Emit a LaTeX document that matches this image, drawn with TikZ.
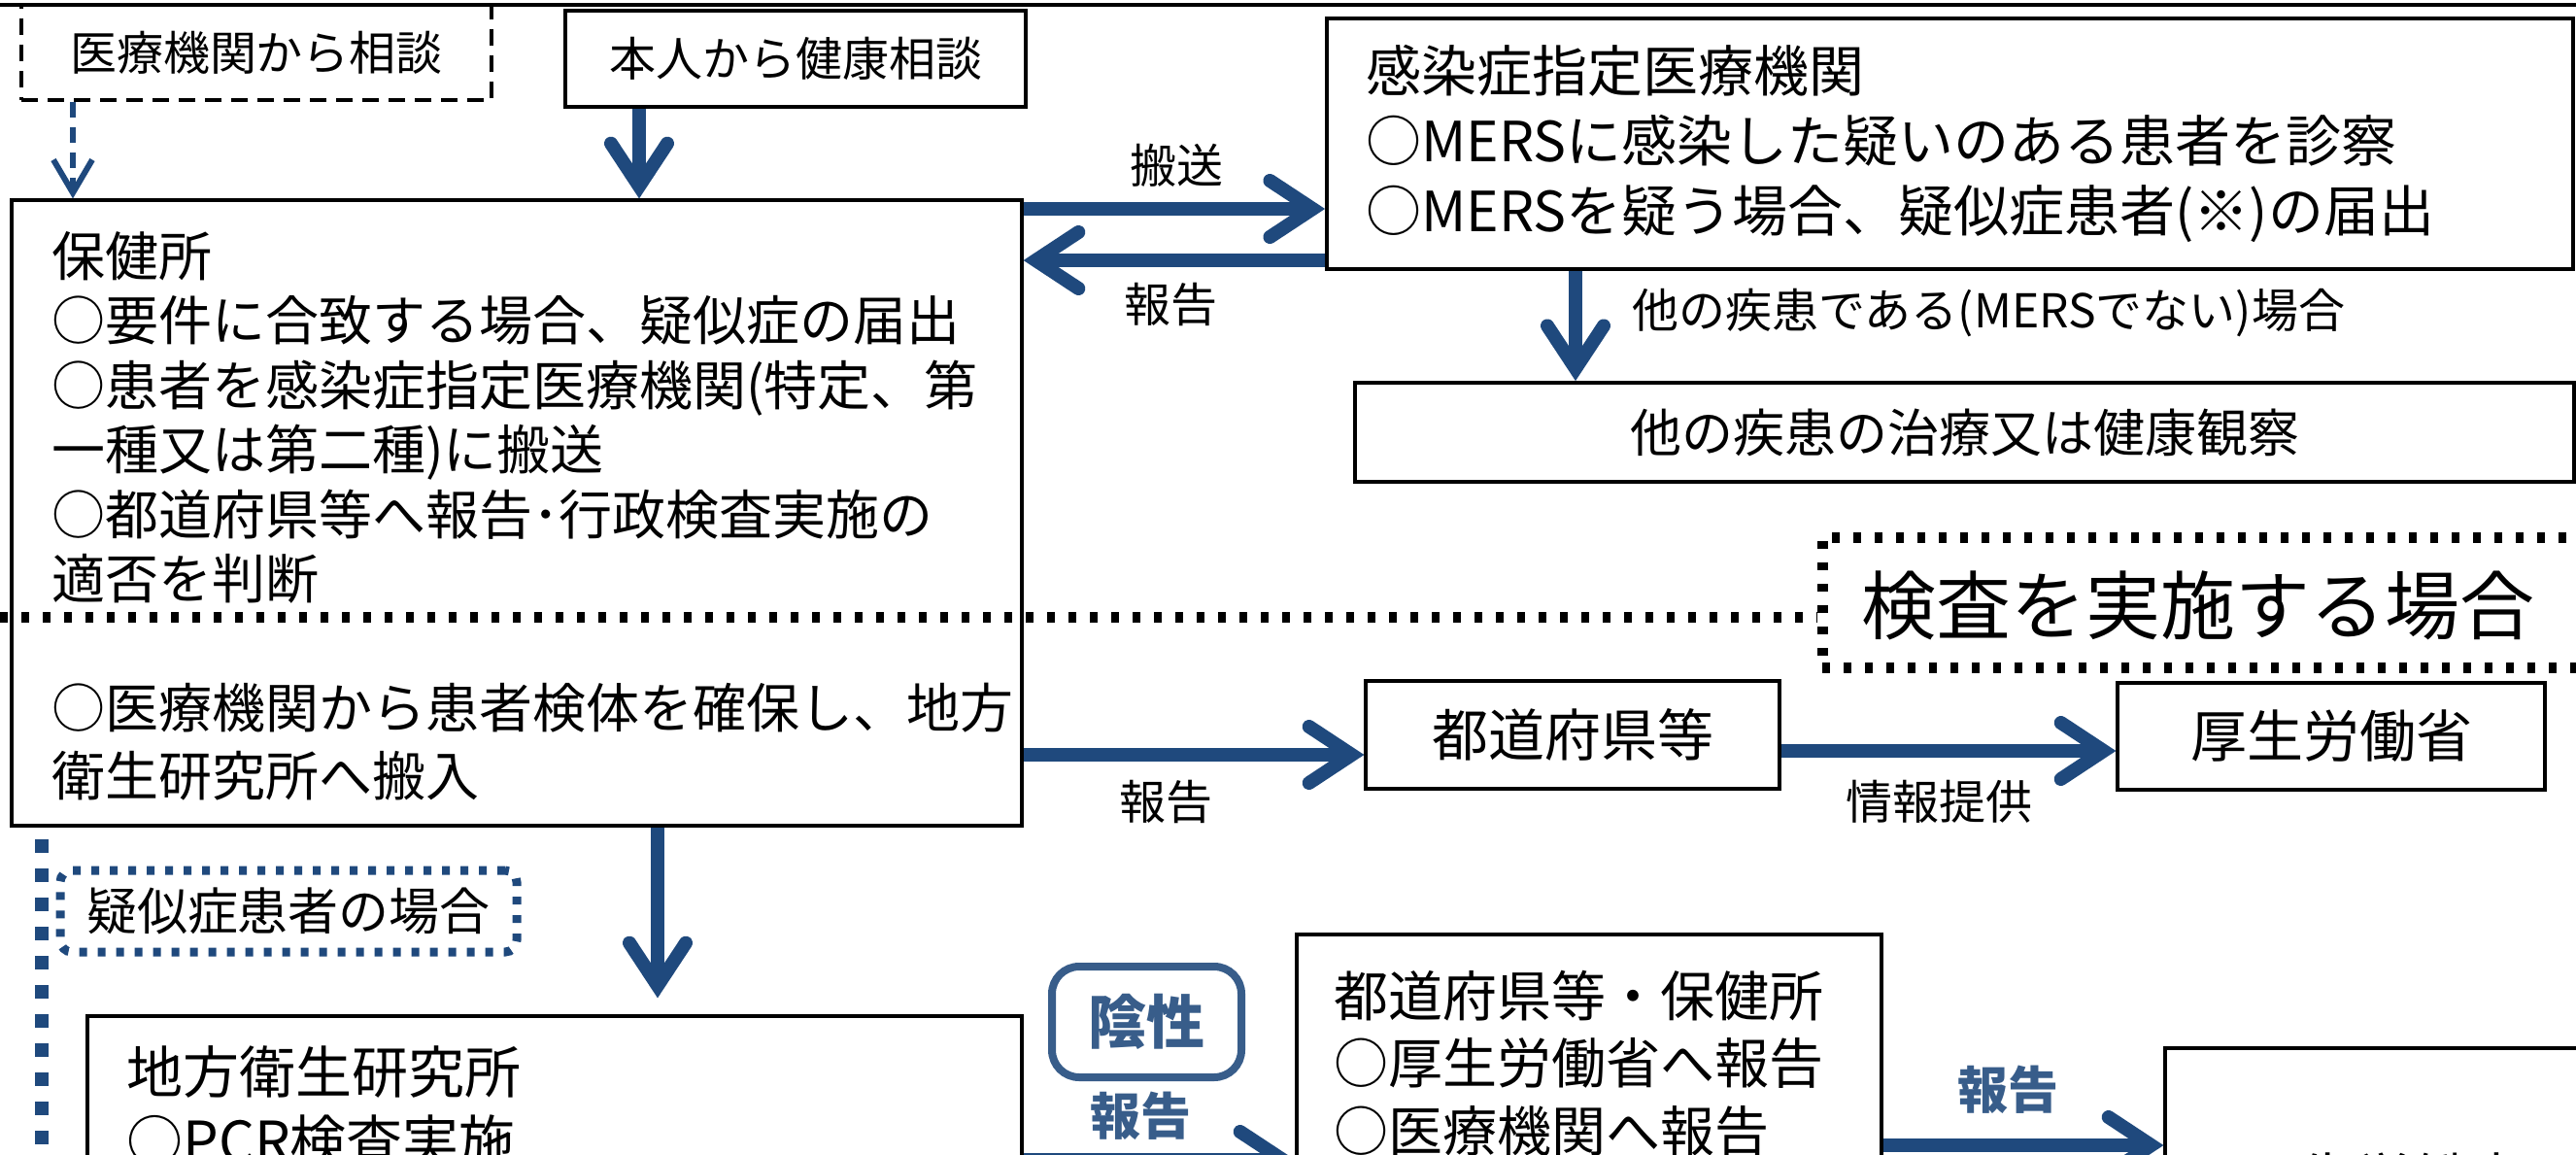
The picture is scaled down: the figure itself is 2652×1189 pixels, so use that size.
\documentclass[tikz,border=0pt]{standalone}
\usepackage{fontspec}
\setmainfont{Noto Sans CJK JP}
\usetikzlibrary{arrows.meta,calc}
\definecolor{navy}{RGB}{31,73,125}
\definecolor{insei}{RGB}{56,93,138}
\begin{document}
\begin{tikzpicture}[x=0.5pt,y=-0.5pt,
  box/.style={draw=black,line width=1.6pt,rectangle,inner sep=0pt},
  txt/.style={inner sep=0pt,align=left,anchor=west},
  lbl/.style={inner sep=0pt,font=\fontsize{24pt}{28pt}\selectfont},
  bluelbl/.style={inner sep=0pt,text=insei,font=\fontsize{26pt}{30pt}\selectfont\bfseries},
  fl/.style={draw=navy,line width=7pt,-{Straight Barb[length=22pt,width=29pt,line width=7pt,line cap=round,line join=miter]}},
  fld/.style={draw=navy,line width=3pt,dash pattern=on 8pt off 5pt,-{Straight Barb[length=17pt,width=20pt,line width=3pt]}},
  blackdots/.style={draw=black,line width=5.5pt,dash pattern=on 4pt off 7pt},
  bluevdots/.style={draw=navy,line width=7pt,dash pattern=on 7pt off 8pt},
  gijidots/.style={draw=navy,line width=4.5pt,dash pattern=on 4pt off 5.5pt,rounded corners=6pt},
]
\fill[white] (0,0) rectangle (2652,1189);
\useasboundingbox (0,0) rectangle (2652,1189);
\clip (0,0) rectangle (2652,1189);

% top frame line
\coordinate (tl) at (0,5);
\coordinate (tr) at (2652,5);
\draw[line width=2pt] (tl) -- (tr);

% boxes
\node[box,dash pattern=on 8.5pt off 5pt,minimum width=242pt,minimum height=49pt,
  font=\fontsize{24pt}{28pt}\selectfont] (iry) at (264,54) {医療機関から相談};
\node[box,minimum width=237pt,minimum height=49.5pt,
  font=\fontsize{24pt}{28pt}\selectfont] (honnin) at (819,60.5) {本人から健康相談};
\node[box,minimum width=520pt,minimum height=322pt] (hoken) at (532,528) {};
\node[txt,font=\fontsize{27.5pt}{33.2pt}\selectfont] (hokent1) at (53,430)
  {保健所\\○要件に合致する場合、疑似症の届出\\○患者を感染症指定医療機関(特定、第\\一種又は第二種)に搬送\\○都道府県等へ報告･行政検査実施の\\適否を判断};
\node[txt,font=\fontsize{27.5pt}{35pt}\selectfont] (hokent2) at (53,764)
  {○医療機関から患者検体を確保し、地方\\衛生研究所へ搬入};

\node[box,line width=1.9pt,minimum width=641.5pt,minimum height=129pt] (kansen) at (2007.5,148) {};
\node[txt,font=\fontsize{28.5pt}{36pt}\selectfont] (kansent) at (1406,148)
  {感染症指定医療機関\\○MERSに感染した疑いのある患者を診察\\○MERSを疑う場合、疑似症患者(※)の届出};

\node[box,line width=1.9pt,minimum width=627.5pt,minimum height=51pt,
  font=\fontsize{26.5pt}{30pt}\selectfont] (tanoshikkan) at (2022.5,445) {他の疾患の治療又は健康観察};

\node[blackdots,inner sep=0pt,minimum width=422pt,minimum height=67pt] (kensa) at (2298,620) {};
\node[inner sep=0pt,font=\fontsize{38.5pt}{42pt}\selectfont] (kensat) at (2263,623) {検査を実施する場合};
\coordinate (dl) at (0,635);
\draw[blackdots] (dl) -- (dl -| kensa.west);

\node[box,minimum width=213pt,minimum height=55.5pt,
  font=\fontsize{29pt}{32pt}\selectfont] (todofuken) at (1619,756.5) {都道府県等};
\node[box,minimum width=220pt,minimum height=55pt,
  font=\fontsize{29pt}{32pt}\selectfont] (kosei) at (2400,758) {厚生労働省};

\node[gijidots,inner sep=0pt,minimum width=235pt,minimum height=42pt,
  font=\fontsize{26pt}{30pt}\selectfont] (giji) at (297,938) {疑似症患者の場合};
\coordinate (vtop) at (43,864);
\coordinate (vbot) at (43,1200);
\draw[bluevdots] (vtop) -- (vbot);

\node[box,minimum width=481pt,minimum height=107pt] (chiho) at (571,1153) {};
\node[txt,font=\fontsize{29pt}{35.5pt}\selectfont] (chihot) at (130,1139.5)
  {地方衛生研究所\\○PCR検査実施};

\node[draw=insei,line width=4pt,rounded corners=14pt,inner sep=0pt,
  minimum width=97.5pt,minimum height=57pt,text=insei,
  font=\fontsize{30pt}{34pt}\selectfont\bfseries] (insei) at (1180.5,1052) {陰性};

\node[box,minimum width=301pt,minimum height=169pt] (tdfh) at (1636,1131) {};
\node[txt,font=\fontsize{28pt}{34.7pt}\selectfont] (tdfht) at (1373,1094.5)
  {都道府県等・保健所\\○厚生労働省へ報告\\○医療機関へ報告};

\node[box,minimum width=230.5pt,minimum height=150pt] (kosei2) at (2459.5,1229) {};
\node[inner sep=0pt,font=\fontsize{29pt}{32pt}\selectfont] (kosei2t) at (2454,1214) {厚生労働省};

% guide coordinates for connectors
\coordinate (xa) at (658,0);
\coordinate (xb) at (75,0);
\coordinate (yc) at (0,215);
\coordinate (yd) at (0,268);
\coordinate (xe) at (1622,0);
\coordinate (yf) at (0,777);
\coordinate (yg) at (0,773);
\coordinate (xh) at (677,0);
\coordinate (yi) at (0,1194);
\coordinate (yj) at (0,1179);

% connectors
\draw[fl] (honnin.south -| xa) -- (hoken.north -| xa);
\draw[fld] (iry.south -| xb) -- (hoken.north -| xb);
\draw[fl] (hoken.east |- yc) -- (kansen.west |- yc);
\draw[fl] (kansen.west |- yd) -- (hoken.east |- yd);
\draw[fl] (kansen.south -| xe) -- (tanoshikkan.north -| xe);
\draw[fl] (hoken.east |- yf) -- (todofuken.west |- yf);
\draw[fl] (todofuken.east |- yg) -- (kosei.west |- yg);
\draw[fl] (hoken.south -| xh) -- ($(chiho.north -| xh)+(0,-17)$);
\draw[fl] (chiho.east |- yi) -- (tdfh.west |- yi);
\draw[fl] (tdfh.east |- yj) -- (kosei2.west |- yj);

% labels
\node[lbl] (l1) at (1211,170) {搬送};
\node[lbl] (l2) at (1205,313) {報告};
\node[inner sep=0pt,anchor=west,font=\fontsize{24pt}{27pt}\selectfont] (l3) at (1680,322) {他の疾患である(MERSでない)場合};
\node[lbl] (l4) at (1200,825) {報告};
\node[lbl] (l5) at (1996,825) {情報提供};
\node[bluelbl] (l6) at (1174,1149) {報告};
\node[bluelbl] (l7) at (2067,1122) {報告};
\end{tikzpicture}
\end{document}
